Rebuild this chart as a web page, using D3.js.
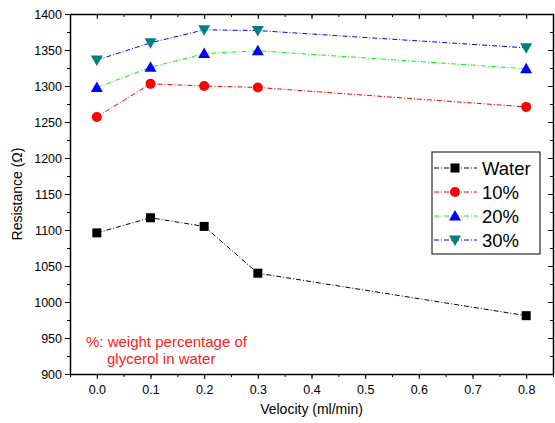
<!DOCTYPE html>
<html>
<head>
<meta charset="utf-8">
<script src="https://cdn.jsdelivr.net/npm/d3@7"></script>
<style>
body { margin: 0; background: #fff; }
text { font-family: "Liberation Sans", Arial, sans-serif; }
</style>
</head>
<body>
<div id="chart"></div>
<script>
// velocities (ml/min)
var velocity = [0.0, 0.1, 0.2, 0.3, 0.8];
// resistance values per series
var water = [1096, 1117, 1105, 1040, 981];
var pct10 = [1257, 1303, 1300, 1298, 1271];
var pct20 = [1298, 1326, 1345, 1349, 1324];
var pct30 = [1336, 1360, 1378, 1377, 1353];
var seriesNames = ['Water', '10%', '20%', '30%'];
var xTicks = [0.0, 0.1, 0.2, 0.3, 0.4, 0.5, 0.6, 0.7, 0.8];
var yTicks = [900, 950, 1000, 1050, 1100, 1150, 1200, 1250, 1300, 1350, 1400];

var w = 555, h = 423;
var pLeft = 70, pRight = 553, pTop = 14, pBottom = 374;

var svg = d3.select('#chart').append('svg')
	.attr('width', w)
	.attr('height', h);

var x = d3.scaleLinear().domain([-0.05, 0.85]).range([pLeft, pRight]);
var y = d3.scaleLinear().domain([900, 1400]).range([pBottom, pTop]);

var series = [
	{name: seriesNames[0], values: water, line: '#000', fill: '#000', shape: 'square'},
	{name: seriesNames[1], values: pct10, line: '#ff0000', fill: '#ff0000', shape: 'circle'},
	{name: seriesNames[2], values: pct20, line: '#00ff00', fill: '#0000ff', shape: 'up'},
	{name: seriesNames[3], values: pct30, line: '#0000ff', fill: '#008080', shape: 'down'}
];

var minorX = d3.range(-0.05, 0.851, 0.05);
var minorY = d3.range(900, 1401, 25);

// axes: bottom/left ticks outward, top/right inward
svg.append('g').attr('transform', 'translate(0,' + pBottom + ')')
	.call(d3.axisBottom(x).tickValues(minorX).tickSize(3).tickFormat(''))
	.call(function(g){ g.select('.domain').remove(); });
svg.append('g').attr('transform', 'translate(0,' + pBottom + ')')
	.call(d3.axisBottom(x).tickValues(xTicks).tickSize(5).tickSizeOuter(0).tickFormat(d3.format('.1f')))
	.call(function(g){
		g.select('.domain').attr('stroke-width', 1.5);
		g.selectAll('text').attr('font-size', 12.5).attr('fill', '#000').attr('dy', '0.95em');
	});

svg.append('g').attr('transform', 'translate(' + pLeft + ',0)')
	.call(d3.axisLeft(y).tickValues(minorY).tickSize(3).tickFormat(''))
	.call(function(g){ g.select('.domain').remove(); });
svg.append('g').attr('transform', 'translate(' + pLeft + ',0)')
	.call(d3.axisLeft(y).tickValues(yTicks).tickSize(5).tickSizeOuter(0).tickFormat(d3.format('d')))
	.call(function(g){
		g.select('.domain').attr('stroke-width', 1.5);
		g.selectAll('text').attr('font-size', 12.5).attr('fill', '#000');
	});

svg.append('g').attr('transform', 'translate(0,' + pTop + ')')
	.call(d3.axisTop(x).tickValues(minorX).tickSize(-3).tickFormat(''))
	.call(function(g){ g.select('.domain').remove(); });
svg.append('g').attr('transform', 'translate(0,' + pTop + ')')
	.call(d3.axisTop(x).tickValues(xTicks).tickSize(-5).tickSizeOuter(0).tickFormat(''))
	.call(function(g){ g.select('.domain').attr('stroke-width', 1.5); });

svg.append('g').attr('transform', 'translate(' + pRight + ',0)')
	.call(d3.axisRight(y).tickValues(minorY).tickSize(-3).tickFormat(''))
	.call(function(g){ g.select('.domain').remove(); });
svg.append('g').attr('transform', 'translate(' + pRight + ',0)')
	.call(d3.axisRight(y).tickValues(yTicks).tickSize(-5).tickSizeOuter(0).tickFormat(''))
	.call(function(g){ g.select('.domain').attr('stroke-width', 1.5); });

// axis titles
svg.append('text')
	.attr('x', (pLeft + pRight) / 2)
	.attr('y', 414)
	.attr('text-anchor', 'middle')
	.attr('font-size', 14)
	.text('Velocity (ml/min)');

svg.append('text')
	.attr('transform', 'translate(22,' + (pTop + pBottom) / 2 + ') rotate(-90)')
	.attr('text-anchor', 'middle')
	.attr('font-size', 14)
	.text('Resistance (\u03A9)');

// marker drawing
function drawMarker(g, shape, fill, cx, cy) {
	if (shape === 'square') {
		g.append('rect').attr('x', cx - 4.5).attr('y', cy - 4.5).attr('width', 9).attr('height', 9).attr('fill', fill);
	} else if (shape === 'circle') {
		g.append('circle').attr('cx', cx).attr('cy', cy).attr('r', 5).attr('fill', fill);
	} else if (shape === 'up') {
		g.append('path').attr('d', 'M' + cx + ',' + (cy - 6) + 'L' + (cx + 6) + ',' + (cy + 4.5) + 'L' + (cx - 6) + ',' + (cy + 4.5) + 'Z').attr('fill', fill);
	} else {
		g.append('path').attr('d', 'M' + cx + ',' + (cy + 6) + 'L' + (cx + 6) + ',' + (cy - 4.5) + 'L' + (cx - 6) + ',' + (cy - 4.5) + 'Z').attr('fill', fill);
	}
}

var line = d3.line()
	.x(function(d, i){ return x(velocity[i]); })
	.y(function(d){ return y(d); });

series.forEach(function(s){
	svg.append('path')
		.attr('d', line(s.values))
		.attr('fill', 'none')
		.attr('stroke', s.line)
		.attr('stroke-width', 1)
		.attr('stroke-dasharray', '5,2,1,2');
	var g = svg.append('g');
	s.values.forEach(function(v, i){
		drawMarker(g, s.shape, s.fill, x(velocity[i]), y(v));
	});
});

// legend
var legend = svg.append('g');
legend.append('rect')
	.attr('x', 432).attr('y', 152)
	.attr('width', 108).attr('height', 102)
	.attr('fill', '#fff').attr('stroke', '#000').attr('stroke-width', 1);
series.forEach(function(s, i){
	var ly = 168 + i * 24;
	legend.append('line')
		.attr('x1', 434).attr('x2', 477)
		.attr('y1', ly).attr('y2', ly)
		.attr('stroke', s.line)
		.attr('stroke-dasharray', '5,2,1,2');
	drawMarker(legend, s.shape, s.fill, 455, ly);
	legend.append('text')
		.attr('x', 482).attr('y', ly + 6.5)
		.attr('font-size', 18.5)
		.text(s.name);
});

// note
var note = svg.append('text').attr('fill', '#ff2020').attr('font-size', 15);
note.append('tspan').attr('x', 86).attr('y', 347).text('%: weight percentage of');
note.append('tspan').attr('x', 107).attr('y', 364).text('glycerol in water');
</script>
</body>
</html>
